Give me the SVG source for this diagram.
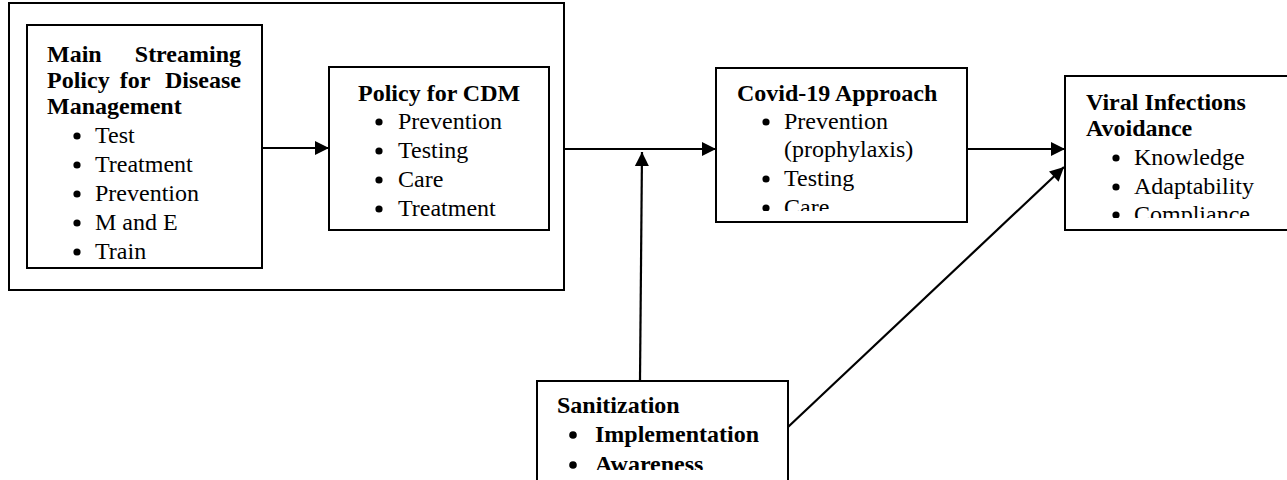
<svg xmlns="http://www.w3.org/2000/svg" width="1287" height="480" viewBox="0 0 1287 480">
  <style>
    .box { fill: #ffffff; stroke: #000000; stroke-width: 2; }
    .t { font-family: "Liberation Serif", "Times New Roman", serif; font-size: 24px; fill: #000000; }
    .b { font-weight: bold; }
    .dot { fill: #000000; }
    .link { stroke: #000000; stroke-width: 2.2; fill: none; marker-end: url(#head); }
  </style>
  <defs>
    <marker id="head" markerUnits="userSpaceOnUse" markerWidth="16" markerHeight="16" viewBox="0 0 16 16" refX="15" refY="8" orient="auto">
      <path d="M1,1 L15,8 L1,15 Z" fill="#000000"/>
    </marker>
    <clipPath id="clip-main"><rect x="27" y="25" width="235" height="234"/></clipPath>
    <clipPath id="clip-covid"><rect x="716" y="68" width="250" height="143"/></clipPath>
    <clipPath id="clip-viral"><rect x="1066" y="76" width="221" height="142"/></clipPath>
    <clipPath id="clip-sanit"><rect x="538" y="381" width="250" height="89"/></clipPath>
  </defs>

  <!-- outer frame around the disease management policy and CDM policy -->
  <g id="frame">
    <rect class="box" x="9" y="3" width="555" height="287"/>
  </g>

  <g id="main-streaming">
    <rect class="box" x="27" y="25" width="235" height="243"/>
    <g clip-path="url(#clip-main)">
      <text class="t b" x="47" y="62">Main</text>
      <text class="t b" x="241" y="62" text-anchor="end">Streaming</text>
      <text class="t b" x="47" y="88">Policy</text>
      <text class="t b" x="135" y="88" text-anchor="middle">for</text>
      <text class="t b" x="241" y="88" text-anchor="end">Disease</text>
      <text class="t b" x="47" y="114">Management</text>
      <circle class="dot" cx="77" cy="136" r="3.6"/><text class="t" x="95" y="143">Test</text>
      <circle class="dot" cx="77" cy="165" r="3.6"/><text class="t" x="95" y="172">Treatment</text>
      <circle class="dot" cx="77" cy="194" r="3.6"/><text class="t" x="95" y="201">Prevention</text>
      <circle class="dot" cx="77" cy="223" r="3.6"/><text class="t" x="95" y="230">M and E</text>
      <circle class="dot" cx="77" cy="252" r="3.6"/><text class="t" x="95" y="259">Train</text>
    </g>
  </g>

  <g id="policy-cdm">
    <rect class="box" x="329" y="67" width="220" height="163"/>
    <text class="t b" x="358" y="101">Policy for CDM</text>
    <circle class="dot" cx="379" cy="122" r="3.6"/><text class="t" x="398" y="129">Prevention</text>
    <circle class="dot" cx="379" cy="151" r="3.6"/><text class="t" x="398" y="158">Testing</text>
    <circle class="dot" cx="379" cy="180" r="3.6"/><text class="t" x="398" y="187">Care</text>
    <circle class="dot" cx="379" cy="209" r="3.6"/><text class="t" x="398" y="216">Treatment</text>
  </g>

  <g id="covid-approach">
    <rect class="box" x="716" y="68" width="251" height="154"/>
    <g clip-path="url(#clip-covid)">
      <text class="t b" x="737" y="101">Covid-19 Approach</text>
      <circle class="dot" cx="766" cy="122" r="3.6"/><text class="t" x="784" y="129">Prevention</text>
      <text class="t" x="784" y="157">(prophylaxis)</text>
      <circle class="dot" cx="766" cy="179" r="3.6"/><text class="t" x="784" y="186">Testing</text>
      <circle class="dot" cx="766" cy="208" r="3.6"/><text class="t" x="784" y="215">Care</text>
    </g>
  </g>

  <g id="viral-avoidance">
    <rect class="box" x="1065" y="76" width="230" height="154"/>
    <g clip-path="url(#clip-viral)">
      <text class="t b" x="1086" y="110">Viral Infections</text>
      <text class="t b" x="1086" y="136">Avoidance</text>
      <circle class="dot" cx="1116" cy="158" r="3.6"/><text class="t" x="1134" y="165">Knowledge</text>
      <circle class="dot" cx="1116" cy="187" r="3.6"/><text class="t" x="1134" y="194">Adaptability</text>
      <circle class="dot" cx="1116" cy="215" r="3.6"/><text class="t" x="1134" y="222">Compliance</text>
    </g>
  </g>

  <g id="sanitization">
    <rect class="box" x="537" y="381" width="251" height="110"/>
    <g clip-path="url(#clip-sanit)">
      <text class="t b" x="557" y="413">Sanitization</text>
      <circle class="dot" cx="573" cy="435" r="3.8"/><text class="t b" x="595" y="442">Implementation</text>
      <circle class="dot" cx="573" cy="465" r="3.8"/><text class="t b" x="595" y="472">Awareness</text>
    </g>
  </g>

  <g id="connectors">
    <line class="link" x1="262" y1="148" x2="329" y2="148"/>
    <line class="link" x1="565" y1="149" x2="716" y2="149"/>
    <line class="link" x1="640" y1="380" x2="642" y2="152"/>
    <line class="link" x1="967" y1="149" x2="1065" y2="149"/>
    <line class="link" x1="788" y1="427" x2="1064" y2="167"/>
  </g>
</svg>
